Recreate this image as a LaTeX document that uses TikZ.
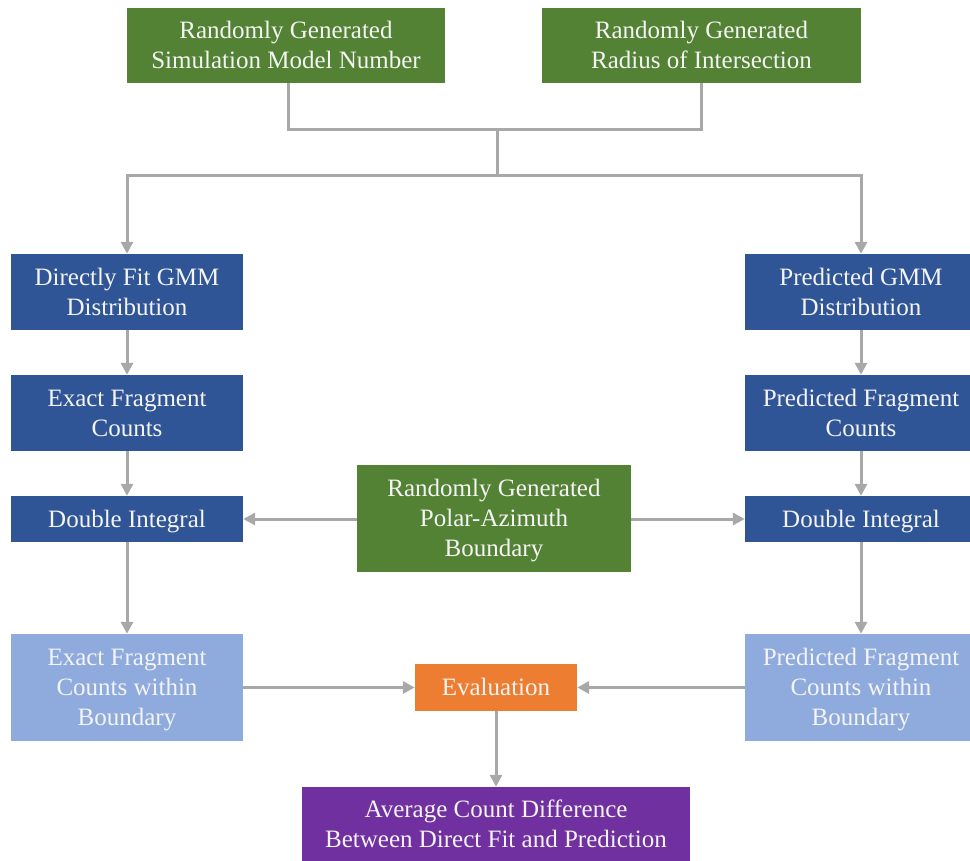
\documentclass[tikz,border=0pt]{standalone}
\usepackage{fontspec}
\setmainfont{Liberation Serif}
\usetikzlibrary{arrows.meta}
\definecolor{cgreen}{HTML}{548235}
\definecolor{cblue}{HTML}{2F5597}
\definecolor{clight}{HTML}{8FAADC}
\definecolor{corange}{HTML}{ED7D31}
\definecolor{cpurple}{HTML}{7030A0}
\definecolor{cline}{HTML}{A8A8A8}
\definecolor{ctext}{HTML}{F4F4F4}
% line strut with the font's full ascent and descent
\newcommand{\ls}{\rule[-0.216em]{0pt}{1.107em}}
\tikzset{
  box/.style={rectangle, inner sep=0pt, align=center, text=ctext,
    font=\fontsize{25}{30}\selectfont},
  conn/.style={draw=cline, line width=3pt},
  arr/.style={conn, -{Triangle[length=12pt,width=12pt]}},
}
\begin{document}
\begin{tikzpicture}[x=1pt,y=-1pt]
\clip (0,0) rectangle (970,861);
\fill[white] (0,0) rectangle (970,861);

% inputs
\node[box, fill=cgreen, minimum width=318pt, minimum height=75pt] (model) at (286,45.5) {\ls Randomly Generated\\Simulation Model Number\ls};
\node[box, fill=cgreen, minimum width=319pt, minimum height=75pt] (radius) at (701.5,45.5) {\ls Randomly Generated\\Radius of Intersection\ls};
\node[box, fill=cgreen, minimum width=274pt, minimum height=107pt] (bound) at (494,518.5) {\ls Randomly Generated\\Polar-Azimuth\\Boundary\ls};

% direct-fit branch
\node[box, fill=cblue, minimum width=232pt, minimum height=76pt] (lgmm) at (127,292) {\ls Directly Fit GMM\\Distribution\ls};
\node[box, fill=cblue, minimum width=232pt, minimum height=76pt] (lcnt) at (127,413) {\ls Exact Fragment\\Counts\ls};
\node[box, fill=cblue, minimum width=232pt, minimum height=46pt] (lint) at (127,519) {\ls Double Integral\ls};
\node[box, fill=clight, minimum width=232pt, minimum height=107pt] (lin) at (127,687.5) {\ls Exact Fragment\\Counts within\\Boundary\ls};

% prediction branch
\node[box, fill=cblue, minimum width=232pt, minimum height=76pt] (rgmm) at (861,292) {\ls Predicted GMM\\Distribution\ls};
\node[box, fill=cblue, minimum width=232pt, minimum height=76pt] (rcnt) at (861,413) {\ls Predicted Fragment\\Counts\ls};
\node[box, fill=cblue, minimum width=232pt, minimum height=46pt] (rint) at (861,519) {\ls Double Integral\ls};
\node[box, fill=clight, minimum width=232pt, minimum height=107pt] (rin) at (861,687.5) {\ls Predicted Fragment\\Counts within\\Boundary\ls};

% evaluation
\node[box, fill=corange, minimum width=162pt, minimum height=47pt] (eval) at (496,687.5) {\ls Evaluation\ls};
\node[box, fill=cpurple, minimum width=388pt, minimum height=75pt] (avg) at (496,824.5) {\ls Average Count Difference\\Between Direct Fit and Prediction\ls};

% merge of the two random inputs
\coordinate (j1) at (497,130);
\coordinate (j2) at (497,176);
\draw[conn] ([xshift=2pt]model.south) |- (j1) -| (radius.south);
\draw[conn] (j1) -- (j2);
\draw[arr] (j2) -| (lgmm.north);
\draw[arr] (j2) -| (rgmm.north);

% vertical flows
\draw[arr] (lgmm) -- (lcnt);
\draw[arr] (lcnt) -- (lint);
\draw[arr] (lint) -- (lin);
\draw[arr] (rgmm) -- (rcnt);
\draw[arr] (rcnt) -- (rint);
\draw[arr] (rint) -- (rin);

% boundary feeds both integrals
\draw[arr] (bound.west |- lint) -- (lint.east);
\draw[arr] (bound.east |- rint) -- (rint.west);

% comparison
\draw[arr] (lin.east |- eval) -- (eval.west);
\draw[arr] (rin.west |- eval) -- (eval.east);
\draw[arr] (eval) -- (avg);
\end{tikzpicture}
\end{document}
